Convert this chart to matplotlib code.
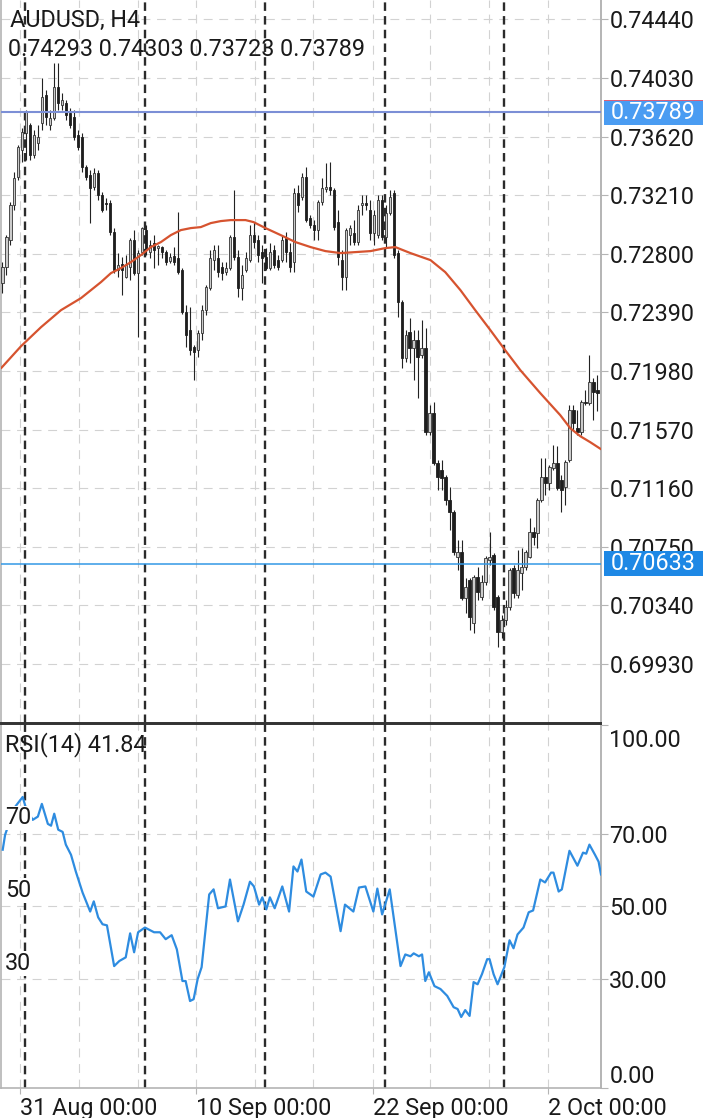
import matplotlib

matplotlib.use("Agg")
import matplotlib.pyplot as plt
import matplotlib.transforms as mtransforms
from matplotlib.patches import Rectangle
import numpy as np

plt.rcParams["font.family"] = ["Roboto", "DejaVu Sans"]

# AUDUSD H4 candles, oldest first
opens = [0.72595, 0.72707, 0.72896, 0.73141, 0.73337, 0.73526, 0.73645, 0.73701, 0.73491, 0.73575,
         0.73715, 0.73911, 0.73701, 0.73750, 0.73967, 0.73841, 0.73855, 0.73785, 0.73757, 0.73631,
         0.73617, 0.73407, 0.73351, 0.73267, 0.73365, 0.73211, 0.73155, 0.73155, 0.72952, 0.72686,
         0.72728, 0.72637, 0.72707, 0.72896, 0.72665, 0.72812, 0.72966, 0.72812, 0.72875, 0.72840,
         0.72847, 0.72812, 0.72749, 0.72784, 0.72770, 0.72686, 0.72392, 0.72266, 0.72147, 0.72126,
         0.72245, 0.72406, 0.72560, 0.72756, 0.72770, 0.72707, 0.72672, 0.72700, 0.72917, 0.72777,
         0.72560, 0.72686, 0.72756, 0.72931, 0.72896, 0.72812, 0.72777, 0.72700, 0.72826, 0.72756,
         0.72756, 0.72910, 0.72812, 0.72742, 0.73225, 0.73197, 0.73337, 0.73050, 0.73001, 0.72966,
         0.73162, 0.73253, 0.73267, 0.73246, 0.73022, 0.72756, 0.72637, 0.72931, 0.72945, 0.72882,
         0.73141, 0.73155, 0.73106, 0.72945, 0.72931, 0.73176, 0.72917, 0.73085, 0.73225, 0.72805,
         0.72462, 0.72070, 0.72252, 0.72140, 0.72196, 0.72091, 0.72140, 0.71552, 0.71685, 0.71335,
         0.71286, 0.71237, 0.71076, 0.70992, 0.70677, 0.70712, 0.70390, 0.70516, 0.70215, 0.70537,
         0.70397, 0.70502, 0.70656, 0.70691, 0.70397, 0.70152, 0.70236, 0.70327, 0.70600, 0.70411,
         0.70565, 0.70607, 0.70677, 0.70852, 0.70845, 0.71076, 0.71237, 0.71195, 0.71300, 0.71335,
         0.71216, 0.71167, 0.71356, 0.71706, 0.71580, 0.71552, 0.71762, 0.71755, 0.71902, 0.71846]
highs = [0.72742, 0.72931, 0.73162, 0.73372, 0.73561, 0.73680, 0.73806, 0.73715, 0.73666, 0.73701,
         0.74030, 0.73946, 0.73806, 0.74135, 0.74135, 0.73925, 0.73876, 0.73820, 0.73806, 0.73666,
         0.73645, 0.73421, 0.73386, 0.73400, 0.73386, 0.73232, 0.73190, 0.73176, 0.72980, 0.72805,
         0.72777, 0.72791, 0.72910, 0.72966, 0.72826, 0.72987, 0.73001, 0.72896, 0.72931, 0.72861,
         0.72854, 0.72826, 0.72805, 0.72847, 0.73092, 0.72700, 0.72441, 0.72427, 0.72161, 0.72266,
         0.72441, 0.72581, 0.72826, 0.72861, 0.72861, 0.72742, 0.72742, 0.72931, 0.73246, 0.72826,
         0.72721, 0.72812, 0.73001, 0.73022, 0.72931, 0.72861, 0.72840, 0.72875, 0.72861, 0.72791,
         0.72931, 0.72952, 0.72875, 0.73260, 0.73281, 0.73365, 0.73407, 0.73071, 0.73036, 0.73176,
         0.73330, 0.73435, 0.73442, 0.73260, 0.73106, 0.72826, 0.72980, 0.73001, 0.73036, 0.73141,
         0.73211, 0.73211, 0.73176, 0.73106, 0.73211, 0.73211, 0.73141, 0.73246, 0.73246, 0.72826,
         0.72476, 0.72266, 0.72350, 0.72266, 0.72266, 0.72336, 0.72280, 0.71741, 0.71762, 0.71356,
         0.71356, 0.71251, 0.71167, 0.71006, 0.70796, 0.70796, 0.70530, 0.70530, 0.70551, 0.70607,
         0.70551, 0.70684, 0.70852, 0.70705, 0.70411, 0.70271, 0.70376, 0.70600, 0.70621, 0.70726,
         0.70740, 0.70726, 0.70950, 0.70887, 0.71090, 0.71370, 0.71370, 0.71321, 0.71461, 0.71454,
         0.71251, 0.71356, 0.71741, 0.71741, 0.71706, 0.71776, 0.71846, 0.72091, 0.71930, 0.71951]
lows = [0.72525, 0.72651, 0.72861, 0.73106, 0.73316, 0.73442, 0.73456, 0.73456, 0.73470, 0.73526,
        0.73666, 0.73701, 0.73666, 0.73736, 0.73806, 0.73806, 0.73736, 0.73680, 0.73596, 0.73526,
        0.73372, 0.73316, 0.73015, 0.73246, 0.73176, 0.73092, 0.73106, 0.72931, 0.72665, 0.72637,
        0.72511, 0.72630, 0.72616, 0.72651, 0.72217, 0.72791, 0.72791, 0.72770, 0.72700, 0.72721,
        0.72770, 0.72721, 0.72735, 0.72721, 0.72658, 0.72378, 0.72147, 0.72091, 0.71916, 0.72077,
        0.72196, 0.72371, 0.72546, 0.72686, 0.72637, 0.72616, 0.72651, 0.72686, 0.72756, 0.72497,
        0.72476, 0.72672, 0.72742, 0.72840, 0.72742, 0.72595, 0.72686, 0.72686, 0.72700, 0.72686,
        0.72742, 0.72742, 0.72672, 0.72672, 0.73092, 0.73176, 0.73022, 0.72980, 0.72896, 0.72896,
        0.73141, 0.73232, 0.73211, 0.72966, 0.72721, 0.72546, 0.72546, 0.72861, 0.72861, 0.72861,
        0.73071, 0.73106, 0.72896, 0.72861, 0.72910, 0.72896, 0.72840, 0.73071, 0.72770, 0.72357,
        0.72000, 0.72042, 0.72035, 0.71916, 0.71790, 0.72070, 0.71531, 0.71531, 0.71321, 0.71146,
        0.71146, 0.71041, 0.70866, 0.70691, 0.70586, 0.70376, 0.70285, 0.70166, 0.70145, 0.70376,
        0.70376, 0.70481, 0.70621, 0.70306, 0.70047, 0.70110, 0.70201, 0.70306, 0.70390, 0.70390,
        0.70446, 0.70586, 0.70670, 0.70761, 0.70740, 0.71062, 0.71111, 0.71146, 0.71286, 0.71146,
        0.70992, 0.71041, 0.71342, 0.71566, 0.71531, 0.71531, 0.71741, 0.71741, 0.71636, 0.71699]
closes = [0.72707, 0.72917, 0.73141, 0.73330, 0.73547, 0.73652, 0.73792, 0.73491, 0.73631, 0.73617,
          0.73897, 0.73757, 0.73750, 0.73967, 0.73855, 0.73876, 0.73771, 0.73701, 0.73617, 0.73547,
          0.73407, 0.73337, 0.73260, 0.73365, 0.73211, 0.73106, 0.73148, 0.72952, 0.72686, 0.72721,
          0.72686, 0.72721, 0.72896, 0.72665, 0.72805, 0.72980, 0.72826, 0.72861, 0.72826, 0.72854,
          0.72812, 0.72742, 0.72777, 0.72742, 0.72672, 0.72392, 0.72231, 0.72126, 0.72112, 0.72245,
          0.72406, 0.72567, 0.72770, 0.72826, 0.72672, 0.72665, 0.72700, 0.72917, 0.72777, 0.72560,
          0.72651, 0.72770, 0.72931, 0.72882, 0.72791, 0.72770, 0.72700, 0.72812, 0.72721, 0.72707,
          0.72896, 0.72812, 0.72707, 0.73225, 0.73141, 0.73337, 0.73036, 0.73001, 0.72966, 0.73162,
          0.73260, 0.73267, 0.73246, 0.72987, 0.72777, 0.72637, 0.72966, 0.72980, 0.72882, 0.73106,
          0.73155, 0.73141, 0.72945, 0.73071, 0.73176, 0.72917, 0.73085, 0.73197, 0.72791, 0.72462,
          0.72070, 0.72231, 0.72140, 0.72196, 0.72077, 0.72140, 0.71552, 0.71685, 0.71335, 0.71237,
          0.71230, 0.71076, 0.70992, 0.70712, 0.70712, 0.70390, 0.70467, 0.70257, 0.70537, 0.70432,
          0.70502, 0.70670, 0.70677, 0.70327, 0.70152, 0.70236, 0.70327, 0.70586, 0.70425, 0.70586,
          0.70607, 0.70712, 0.70852, 0.70817, 0.71076, 0.71237, 0.71195, 0.71307, 0.71335, 0.71160,
          0.71146, 0.71342, 0.71706, 0.71615, 0.71552, 0.71762, 0.71755, 0.71902, 0.71832, 0.71825]

# moving average read at bar positions
ma_bars = [-0.3, 4.7, 9.7, 14.7, 19.7, 22.2, 24.7, 27.2, 29.7, 32.2, 34.7, 37.2, 39.7, 42.2,
           44.7, 47.2, 49.7, 52.2, 54.7, 57.2, 60.9, 62.9, 65.9, 69.7, 73.4, 77.2, 80.9, 84.7,
           88.4, 92.2, 95.9, 98.4, 102.2, 107.2, 110.9, 114.7, 118.4, 122.2, 125.9, 129.7, 134.7,
           139.7, 142.2, 144.7, 147.2, 149.9]
ma_vals = [0.72000, 0.72154, 0.72287, 0.72406, 0.72490, 0.72546, 0.72602, 0.72665, 0.72700,
           0.72742, 0.72791, 0.72847, 0.72882, 0.72931, 0.72966, 0.72980, 0.72987, 0.73015,
           0.73029, 0.73036, 0.73036, 0.73022, 0.72980, 0.72931, 0.72882, 0.72847, 0.72819,
           0.72805, 0.72812, 0.72819, 0.72840, 0.72847, 0.72805, 0.72756, 0.72672, 0.72546,
           0.72406, 0.72266, 0.72126, 0.71986, 0.71825, 0.71671, 0.71580, 0.71524, 0.71482,
           0.71433]

# RSI(14) read at bar positions
rsi_bars = [0.1, 0.7, 3.0, 5.1, 5.9, 7.6, 8.9, 9.9, 11.4, 12.2, 13.0, 14.0, 15.1, 15.9, 17.2,
            18.4, 20.1, 22.0, 22.9, 24.0, 25.1, 26.2, 28.0, 29.3, 30.9, 32.0, 33.0, 34.0, 35.7,
            38.0, 39.5, 40.9, 42.4, 43.7, 45.1, 45.9, 47.0, 47.9, 48.9, 49.9, 51.8, 52.9, 54.0,
            55.9, 57.0, 59.0, 60.4, 62.0, 63.0, 64.3, 65.1, 66.1, 67.0, 68.2, 70.1, 71.8, 72.9,
            73.9, 74.9, 76.1, 77.9, 79.7, 80.9, 82.2, 84.7, 85.8, 87.9, 89.3, 90.9, 92.9, 93.9,
            95.1, 97.0, 99.7, 100.9, 102.2, 103.0, 104.3, 105.1, 105.9, 106.8, 108.2, 109.7,
            111.4, 113.0, 114.0, 114.9, 115.9, 117.0, 118.0, 119.0, 120.1, 121.4, 122.0, 123.0,
            124.0, 125.7, 127.0, 128.0, 129.0, 130.5, 131.8, 132.9, 134.7, 135.9, 137.4, 138.0,
            139.3, 140.1, 142.0, 144.0, 145.4, 146.2, 147.0, 148.4, 149.3, 149.9]
rsi_vals = [65.6, 69.7, 77.1, 80.1, 77.1, 73.8, 74.7, 78.2, 72.7, 72.2, 75.5, 71.1, 70.5, 67.0,
            64.2, 59.6, 53.8, 48.6, 51.4, 47.0, 45.1, 44.8, 33.6, 35.0, 36.0, 42.6, 37.4, 42.9,
            44.2, 42.9, 42.9, 41.0, 42.1, 38.2, 29.5, 29.5, 24.0, 24.5, 30.0, 33.3, 53.3, 54.7,
            49.5, 50.0, 57.4, 45.9, 50.5, 56.8, 55.5, 50.5, 52.5, 49.2, 52.5, 49.5, 55.5, 48.6,
            61.0, 59.6, 62.9, 54.1, 52.7, 58.8, 59.3, 58.2, 43.2, 50.5, 48.6, 55.2, 55.5, 48.6,
            54.9, 47.8, 54.7, 33.6, 36.8, 36.3, 37.1, 36.3, 36.8, 29.5, 31.9, 28.1, 27.3, 25.4,
            22.3, 21.8, 19.6, 21.5, 19.9, 29.2, 28.6, 31.4, 35.5, 35.5, 31.4, 28.6, 33.3, 40.7,
            38.5, 42.3, 44.2, 48.4, 48.9, 57.4, 56.6, 59.3, 59.3, 54.1, 54.7, 65.3, 61.2, 64.8,
            64.5, 67.0, 64.2, 62.3, 58.8]

price_ticks = [0.74440, 0.74030, 0.73620, 0.73210, 0.72800, 0.72390, 0.71980, 0.71570,
               0.71160, 0.70750, 0.70340, 0.69930]
rsi_levels = [30, 50, 70]
date_tick_bars = [4.4, 48.4, 92.7, 136.7]
date_labels = ["31 Aug 00:00", "10 Sep 00:00", "22 Sep 00:00", "2 Oct 00:00"]
grid_bars = [4.4, 19.2, 33.9, 48.4, 63.2, 77.9, 92.7, 107.2, 121.9, 136.7]
week_bars = [5.7, 35.7, 65.7, 95.7, 125.7]
bid_price = 0.73789
level_price = 0.70633
header = "AUDUSD, H4"
ohlc_text = "0.74293 0.74303 0.73723 0.73789"
rsi_text = "RSI(14) 41.84"

W, H = 720, 1118
FS = 16.8
fig = plt.figure(figsize=(W / 100, H / 100), dpi=100)
ax = fig.add_axes([1 / W, 1 - 723 / H, 600 / W, 723 / H])
ax_rsi = fig.add_axes([1 / W, 1 - 1088.3 / H, 600 / W, 364.8 / H])

GRID = "#d2d2d2"
DARK = "#2b2b2b"
AXC = "#b4b4b4"
TXT = "#1a1a1a"
XLIM = (-0.33, 149.9)

for a in (ax, ax_rsi):
    a.set_xlim(*XLIM)
    for b in grid_bars:
        a.axvline(b, color=GRID, lw=0.8, ls=(0, (8, 6)), zorder=0)
    for b in week_bars:
        a.axvline(b, color=DARK, lw=1.7, ls=(0, (3.6, 2.2)), zorder=1)
    a.spines["left"].set_color(AXC)
    a.spines["right"].set_color(AXC)
    a.spines["left"].set_linewidth(1.2)
    a.spines["right"].set_linewidth(1.4)
    a.yaxis.tick_right()
    a.tick_params(axis="y", direction="out", length=5, width=0.8, color=AXC,
                  labelsize=FS, pad=1, labelcolor=TXT)

# price panel
ax.set_ylim(0.69517, 0.74576)
for p in price_ticks:
    ax.axhline(p, color=GRID, lw=0.8, ls=(0, (8, 6)), zorder=0)
ax.set_yticks(price_ticks)
ax.set_yticklabels([f"{p:.5f}" for p in price_ticks])
ax.set_xticks([])
ax.spines["top"].set_visible(False)
ax.spines["bottom"].set_color("#333333")
ax.spines["bottom"].set_linewidth(1.4)

x = np.arange(len(closes))
o = np.array(opens)
c = np.array(closes)
up = c >= o
ax.vlines(x, lows, highs, color="#222222", lw=0.8, zorder=3)
body_lo = np.minimum(o, c)
body_h = np.maximum(np.abs(c - o), 0.00004)
ax.bar(x[up], body_h[up], bottom=body_lo[up], width=0.6, color="#cbcbcb",
       edgecolor="#333333", linewidth=0.6, zorder=4)
ax.bar(x[~up], body_h[~up], bottom=body_lo[~up], width=0.6, color="#1e1e1e",
       edgecolor="#1e1e1e", linewidth=0.6, zorder=4)

ax.plot(ma_bars, ma_vals, color="#d6532f", lw=1.6, zorder=5, solid_capstyle="round")

ax.axhline(bid_price, color="#7c8fd6", lw=1.5, zorder=6)
ax.axhline(level_price, color="#3399e6", lw=1.1, zorder=6)

tr = mtransforms.blended_transform_factory(ax.transAxes, ax.transData)
box_h = 25 * (0.74576 - 0.69517) / 723
for price, col in ((bid_price, "#4a9cf2"), (level_price, "#1e88e5")):
    ax.add_patch(Rectangle((1.005, price - box_h / 2), 0.165, box_h, transform=tr,
                           facecolor=col, edgecolor="none", clip_on=False, zorder=10))
    ax.text(1.0875, price, f"{price:.5f}", transform=tr, ha="center", va="center",
            color="white", fontsize=FS, zorder=11, clip_on=False)
# thin red edge on top of the bid box
ax.add_patch(Rectangle((1.005, bid_price + box_h / 2 - box_h * 0.06), 0.165, box_h * 0.06,
                       transform=tr, facecolor="#d9607a", edgecolor="none",
                       clip_on=False, zorder=10))

ax.text(0.015, 0.971, header, transform=ax.transAxes, fontsize=FS, color=TXT,
        ha="left", va="center", zorder=12)
ax.text(0.012, 0.931, ohlc_text, transform=ax.transAxes, fontsize=FS, color=TXT,
        ha="left", va="center", zorder=12)

# RSI panel
ax_rsi.set_ylim(0.3, 100.3)
for lv in rsi_levels:
    ax_rsi.axhline(lv, color=GRID, lw=0.8, ls=(0, (8, 6)), zorder=0)
ax_rsi.plot(rsi_bars, rsi_vals, color="#2e8ce0", lw=1.6, zorder=5)
ax_rsi.set_yticks([0, 30, 50, 70, 100])
ax_rsi.set_yticklabels(["0.00", "30.00", "50.00", "70.00", "100.00"])
labels = ax_rsi.get_yticklabels()
labels[0].set_verticalalignment("bottom")
labels[-1].set_verticalalignment("top")
labels[-1].set_transform(labels[-1].get_transform()
                         + mtransforms.ScaledTranslation(0, -4 / 100, fig.dpi_scale_trans))
ax_rsi.spines["top"].set_color("#333333")
ax_rsi.spines["top"].set_linewidth(1.4)
ax_rsi.spines["bottom"].set_color(AXC)
ax_rsi.spines["bottom"].set_linewidth(1.2)
ax_rsi.set_xticks(date_tick_bars)
ax_rsi.set_xticklabels(date_labels, ha="left")
ax_rsi.tick_params(axis="x", direction="out", length=4, width=0.8, color=AXC,
                   labelsize=FS, pad=2, labelcolor=TXT)
rsi_tr = mtransforms.blended_transform_factory(ax_rsi.transAxes, ax_rsi.transData)
for lv in rsi_levels:
    ax_rsi.text(0.007, lv + 1.2, str(lv), transform=rsi_tr, fontsize=FS, color=TXT,
                ha="left", va="bottom", zorder=12,
                bbox=dict(facecolor="white", edgecolor="none", pad=0.5))
ax_rsi.text(0.007, 0.941, rsi_text, transform=ax_rsi.transAxes, fontsize=FS,
            color=TXT, ha="left", va="center", zorder=12)

fig.savefig("out.png", dpi=100)
